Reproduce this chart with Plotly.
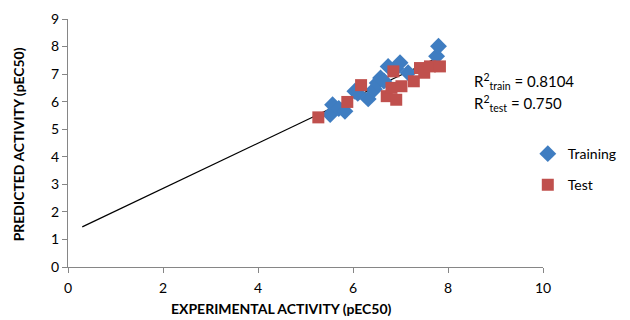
import plotly.graph_objects as go

train_x = [5.52, 5.57, 5.70, 5.83, 6.04, 6.10, 6.32, 6.45, 6.51, 6.58, 6.65, 6.74, 6.90, 6.99, 7.16, 7.76, 7.80]
train_y = [5.53, 5.89, 5.75, 5.65, 6.38, 6.30, 6.10, 6.45, 6.68, 6.86, 6.75, 7.28, 7.20, 7.41, 7.05, 7.65, 8.01]

test_x = [5.27, 5.88, 6.17, 6.71, 6.91, 6.81, 6.85, 7.02, 7.28, 7.41, 7.50, 7.62, 7.83]
test_y = [5.43, 5.99, 6.60, 6.20, 6.07, 6.50, 7.10, 6.56, 6.74, 7.22, 7.05, 7.28, 7.28]

fit_slope = 0.821
fit_intercept = 1.21
fit_x = [0.3, 7.85]
fit_y = [fit_slope * v + fit_intercept for v in fit_x]

x_ticks = [0, 2, 4, 6, 8, 10]
y_ticks = [0, 1, 2, 3, 4, 5, 6, 7, 8, 9]

blue = "#3F7DC1"
red = "#C0504D"
font = "Lato"

fig = go.Figure()
fig.add_trace(go.Scatter(x=fit_x, y=fit_y, mode="lines", line=dict(color="black", width=1.2),
                         showlegend=False, hoverinfo="skip"))
fig.add_trace(go.Scatter(x=train_x, y=train_y, mode="markers", name="Training",
                         marker=dict(symbol="diamond", size=13, color=blue),
                         legendgroup="a"))
fig.add_trace(go.Scatter(x=test_x, y=test_y, mode="markers", name="Test",
                         marker=dict(symbol="square", size=12, color=red),
                         legendgroup="b"))

fig.add_annotation(x=0.85, y=0.746, xref="paper", yref="paper", xanchor="left", yanchor="middle",
                   text="R<sup>2</sup><sub>train</sub> = 0.8104", showarrow=False,
                   font=dict(family=font, size=15, color="black"))
fig.add_annotation(x=0.85, y=0.661, xref="paper", yref="paper", xanchor="left", yanchor="middle",
                   text="R<sup>2</sup><sub>test</sub> = 0.750", showarrow=False,
                   font=dict(family=font, size=15, color="black"))

# axis titles
fig.add_annotation(x=0.45, y=-0.168, xref="paper", yref="paper", xanchor="center", yanchor="middle",
                   text="<b>EXPERIMENTAL ACTIVITY (pEC50)</b>", showarrow=False,
                   font=dict(family=font, size=14, color="black"))
fig.add_annotation(x=-0.105, y=0.495, xref="paper", yref="paper", xanchor="center", yanchor="middle",
                   text="<b>PREDICTED ACTIVITY (pEC50)</b>", showarrow=False, textangle=-90,
                   font=dict(family=font, size=14, color="black"))

axis_common = dict(showgrid=False, zeroline=False, showline=True, linecolor="#868686", linewidth=1,
                   ticks="outside", ticklen=5, tickcolor="#868686", automargin=False,
                   tickfont=dict(family=font, size=14, color="black"))

fig.update_layout(
    width=622, height=312,
    margin=dict(l=60, r=87, t=11, b=53, autoexpand=False),
    plot_bgcolor="white", paper_bgcolor="white",
    font=dict(family=font, color="black"),
    xaxis=dict(range=[0, 10], tickvals=x_ticks, ticklabelstandoff=3, **axis_common),
    yaxis=dict(range=[0, 9], tickvals=y_ticks, **axis_common),
    legend=dict(x=0.968, y=0.52, xanchor="left", yanchor="top", traceorder="grouped",
                tracegroupgap=10, font=dict(family=font, size=14), bgcolor="rgba(0,0,0,0)"),
)

fig.write_html("out.html")
